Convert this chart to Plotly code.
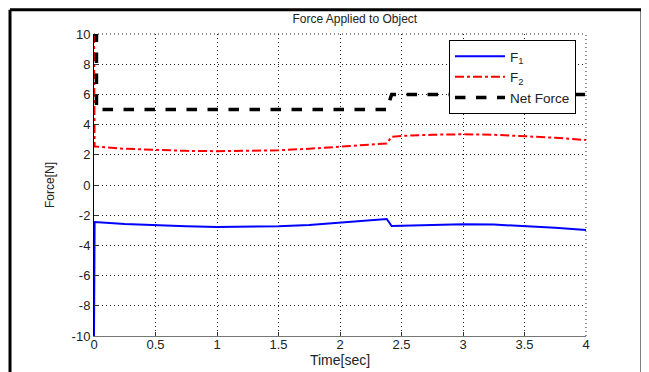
import plotly.graph_objects as go

t_f1 = [0, 0.005, 0.25, 0.5, 0.75, 1.0, 1.25, 1.5, 1.75, 2.0, 2.25, 2.38, 2.42, 2.5, 2.75, 3.0, 3.25, 3.5, 3.75, 4.0]
f1 = [-10, -2.45, -2.58, -2.68, -2.74, -2.78, -2.78, -2.74, -2.65, -2.5, -2.33, -2.25, -2.72, -2.7, -2.64, -2.6, -2.62, -2.7, -2.83, -2.98]

t_f2 = [0, 0.005, 0.25, 0.5, 0.75, 1.0, 1.25, 1.5, 1.75, 2.0, 2.25, 2.38, 2.42, 2.5, 2.75, 3.0, 3.25, 3.5, 3.75, 4.0]
f2 = [10, 2.55, 2.4, 2.32, 2.26, 2.24, 2.25, 2.3, 2.4, 2.52, 2.66, 2.75, 3.2, 3.25, 3.33, 3.36, 3.33, 3.25, 3.13, 2.98]

t_net = [0, 0.02, 0.02, 2.38, 2.42, 4.0]
net = [10, 10, 5, 5, 6, 6]

x_ticks = [0, 0.5, 1, 1.5, 2, 2.5, 3, 3.5, 4]
x_labels = ["0", "0.5", "1", "1.5", "2", "2.5", "3", "3.5", "4"]
y_ticks = [-10, -8, -6, -4, -2, 0, 2, 4, 6, 8, 10]
y_labels = ["-10", "-8", "-6", "-4", "-2", "0", "2", "4", "6", "8", "10"]

fig = go.Figure()
fig.add_trace(go.Scatter(x=t_f1, y=f1, mode="lines", name="F<sub>1</sub>",
                         line=dict(color="#0000ff", width=2)))
fig.add_trace(go.Scatter(x=t_f2, y=f2, mode="lines", name="F<sub>2</sub>",
                         line=dict(color="#ff0000", width=2, dash="dashdot")))
fig.add_trace(go.Scatter(x=t_net, y=net, mode="lines", name="Net Force",
                         line=dict(color="black", width=3.5, dash="dash")))

# outer frame (page body margin of 8px is compensated in the layout)
frame = dict(color="black", width=3)
fx0, fx1, fy0, fy1 = -0.1707, 1.1138, -0.2, 1.0800
fig.add_shape(type="line", xref="paper", yref="paper", x0=fx0, x1=fx1, y0=fy1, y1=fy1, line=frame)
fig.add_shape(type="line", xref="paper", yref="paper", x0=fx0, x1=fx0, y0=fy0, y1=fy1, line=frame)
fig.add_shape(type="line", xref="paper", yref="paper", x0=fx1, x1=fx1, y0=fy0, y1=fy1, line=frame)
# top and right dotted grid borders
fig.add_shape(type="line", xref="paper", yref="paper", x0=0, x1=1, y0=1, y1=1,
              line=dict(color="#222", width=1, dash="1px,3px"))
fig.add_shape(type="line", xref="paper", yref="paper", x0=1, x1=1, y0=0, y1=1,
              line=dict(color="#222", width=1, dash="1px,3px"))

fig.update_layout(
    width=641, height=364,
    margin=dict(l=86, r=63, t=26, b=36, autoexpand=False),
    paper_bgcolor="white", plot_bgcolor="white",
    font=dict(family="Liberation Sans, Arial", size=13, color="#222"),
    title=dict(text="Force Applied to Object", x=0.541, xanchor="center",
               y=0.97, yanchor="middle", font=dict(size=12, color="#222")),
    showlegend=True,
    legend=dict(x=0.7215, y=0.98, xanchor="left", yanchor="top",
                bgcolor="white", bordercolor="black", borderwidth=1,
                font=dict(size=13.5, color="#222"), itemwidth=50,
                tracegroupgap=0),
)
fig.update_xaxes(range=[0, 4], tickvals=x_ticks, ticktext=x_labels,
                 showgrid=True, gridcolor="#222", griddash="1px,3px", gridwidth=1,
                 showline=True, linecolor="#777", linewidth=1, automargin=False,
                 ticks="inside", ticklen=4, tickcolor="#333", zeroline=False,
                 tickfont=dict(size=13), ticklabelstandoff=-4,
                 title=dict(text="Time[sec]", standoff=0, font=dict(size=14)))
fig.update_yaxes(range=[-10, 10], tickvals=y_ticks, ticktext=y_labels,
                 showgrid=True, gridcolor="#222", griddash="1px,3px", gridwidth=1,
                 showline=True, linecolor="black", linewidth=1, automargin=False,
                 ticks="inside", ticklen=4, tickcolor="#333", zeroline=False,
                 tickfont=dict(size=13),
                 title=dict(text="Force[N]", standoff=14, font=dict(size=12)))

fig.write_html("out.html")
